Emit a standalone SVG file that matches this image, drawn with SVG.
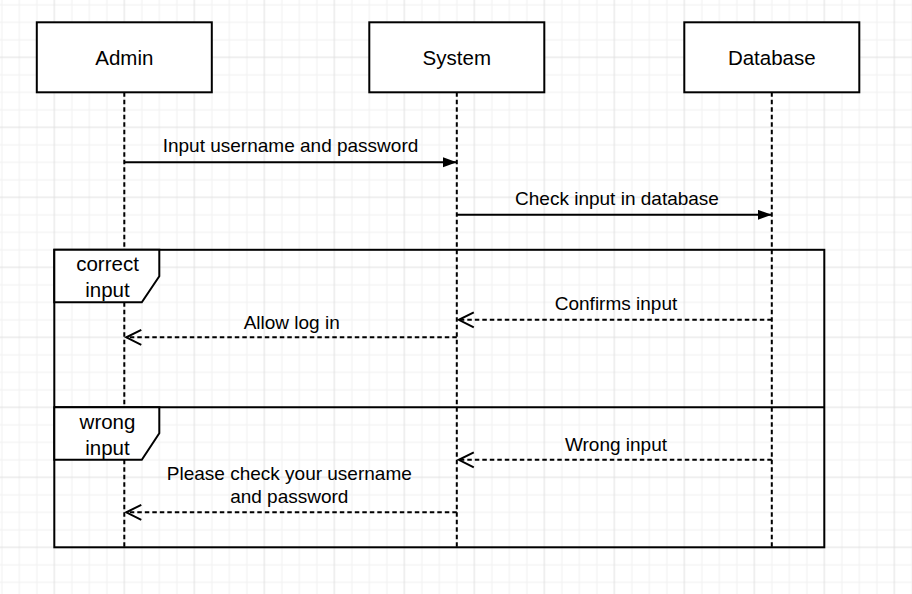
<svg xmlns="http://www.w3.org/2000/svg" width="912" height="594" viewBox="0 0 912 594">
<style>
.box{fill:#fff;stroke:#000;stroke-width:2}
.life{fill:none;stroke:#000;stroke-width:2;stroke-dasharray:4.5 3}
.msg{fill:none;stroke:#000;stroke-width:1.9}
.ret{fill:none;stroke:#000;stroke-width:2;stroke-dasharray:4.5 3}
.frame{fill:none;stroke:#000;stroke-width:2}
.lbl{fill:#fff;stroke:#000;stroke-width:2}
text{font-family:"Liberation Sans",Arial,sans-serif;font-size:19px;fill:#000;text-anchor:middle}
.big{font-size:20.5px}
</style>
<defs>
<pattern id="grid" patternUnits="userSpaceOnUse" x="10.55" y="13.55" width="70" height="70">
<path d="M8.75 0V70M26.25 0V70M61.25 0V70M0 8.75H70M0 26.25H70M0 61.25H70" stroke="#f0f0f0" stroke-width="1" fill="none"/>
<path d="M43.75 0V70M0 43.75H70" stroke="#e0e0e0" stroke-width="1" fill="none"/>
</pattern>
<marker id="block" markerUnits="userSpaceOnUse" markerWidth="16" markerHeight="12" refX="14" refY="5" orient="auto">
<path d="M0 0L14 5L0 10Z" fill="#000"/>
</marker>
<marker id="open" markerUnits="userSpaceOnUse" markerWidth="20" markerHeight="20" refX="17" refY="9" orient="auto">
<path d="M2 1.5L17 9L2 16.5" fill="none" stroke="#000" stroke-width="2"/>
</marker>
</defs>
<rect width="912" height="594" fill="#fff"/>
<rect width="912" height="594" fill="url(#grid)"/>

<g id="frame">
<rect class="frame" x="54.3" y="249.8" width="770" height="297.5"/>
<line class="frame" x1="54.3" y1="407.3" x2="824.3" y2="407.3"/>
</g>

<g id="lifelines">
<line class="life" x1="124.3" y1="92.3" x2="124.3" y2="547.3"/>
<line class="life" x1="456.8" y1="92.3" x2="456.8" y2="547.3"/>
<line class="life" x1="771.8" y1="92.3" x2="771.8" y2="547.3"/>
</g>

<g id="admin">
<rect class="box" x="36.8" y="22.3" width="175" height="70"/>
<text class="big" x="124.3" y="64.6">Admin</text>
</g>
<g id="system">
<rect class="box" x="369.3" y="22.3" width="175" height="70"/>
<text class="big" x="456.8" y="64.6">System</text>
</g>
<g id="database">
<rect class="box" x="684.3" y="22.3" width="175" height="70"/>
<text class="big" x="771.8" y="64.6">Database</text>
</g>

<g id="frame-correct">
<path class="lbl" d="M54.3 249.8H159.3V276.3L141.8 302.3H54.3Z"/>
<text class="big" x="107.5" y="271">correct</text>
<text class="big" x="107.5" y="297">input</text>
</g>
<g id="frame-wrong">
<path class="lbl" d="M54.3 407.3H159.3V433.3L141.8 459.8H54.3Z"/>
<text class="big" x="107.5" y="428.5">wrong</text>
<text class="big" x="107.5" y="454.5">input</text>
</g>

<g id="connectors">
<line class="msg" x1="124.3" y1="162.3" x2="456.8" y2="162.3" marker-end="url(#block)"/>
<line class="msg" x1="456.8" y1="214.8" x2="771.8" y2="214.8" marker-end="url(#block)"/>
<line class="ret" x1="771.8" y1="319.8" x2="458.8" y2="319.8" marker-end="url(#open)"/>
<line class="ret" x1="456.8" y1="337.3" x2="126.3" y2="337.3" marker-end="url(#open)"/>
<line class="ret" x1="771.8" y1="459.8" x2="458.8" y2="459.8" marker-end="url(#open)"/>
<line class="ret" x1="456.8" y1="512.3" x2="126.3" y2="512.3" marker-end="url(#open)"/>
<text x="290.5" y="151.7">Input username and password</text>
<text x="617" y="205">Check input in database</text>
<text x="616" y="310">Confirms input</text>
<text x="291.7" y="329.3">Allow log in</text>
<text x="616" y="451">Wrong input</text>
<text x="289.3" y="480">Please check your username</text>
<text x="289.3" y="502.7">and password</text>
</g>
</svg>
